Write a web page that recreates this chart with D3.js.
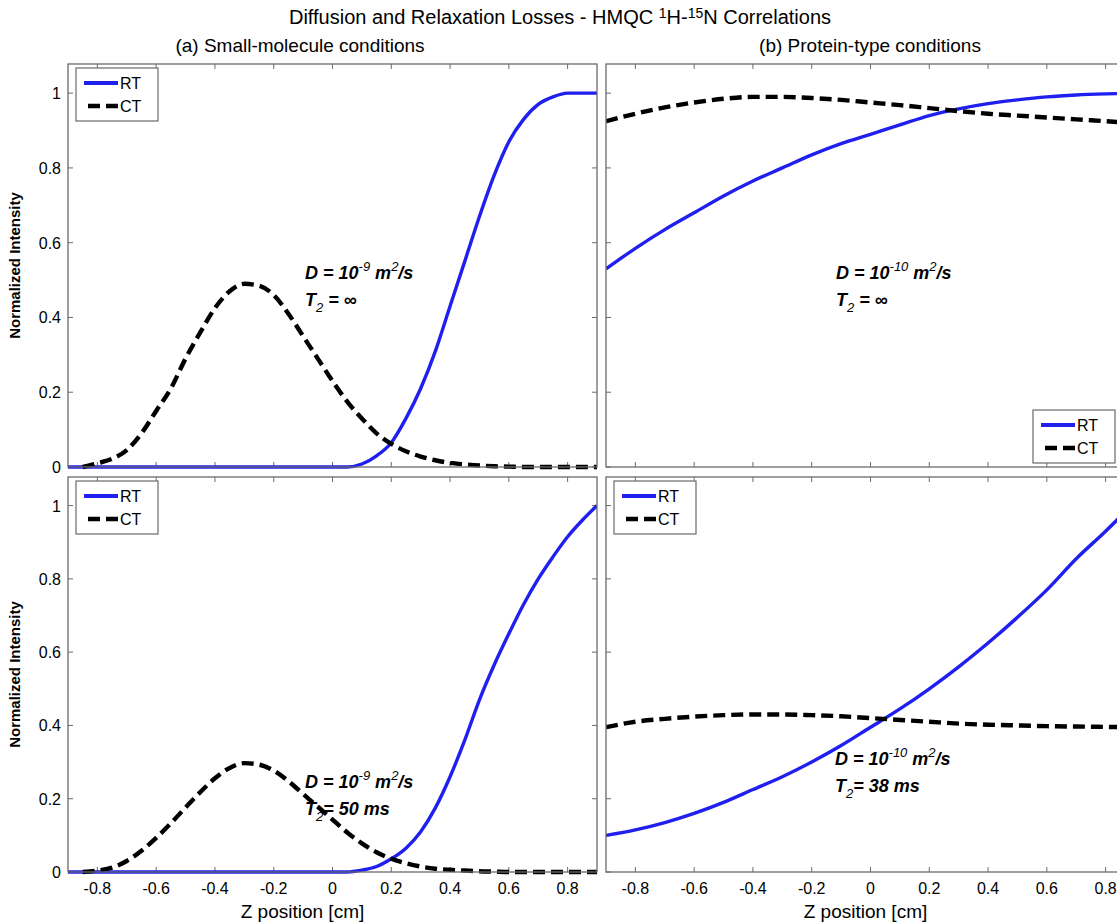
<!DOCTYPE html>
<html>
<head>
<meta charset="utf-8">
<script src="https://cdn.jsdelivr.net/npm/d3@7"></script>
<style>
  body { margin: 0; background: #fff; }
  svg { display: block; font-family: "Liberation Sans", Arial, Helvetica, sans-serif; }
</style>
</head>
<body>
<svg id="chart" width="1117" height="922"></svg>
<script>
// z positions (cm)
const zFine = [-0.9, -0.85, -0.8, -0.75, -0.7, -0.65, -0.6, -0.55, -0.5, -0.45, -0.4, -0.35, -0.3, -0.25, -0.2, -0.15, -0.1, -0.05,
  0, 0.05, 0.1, 0.15, 0.2, 0.25, 0.3, 0.35, 0.4, 0.45, 0.5, 0.55, 0.6, 0.65, 0.7, 0.75, 0.8, 0.85, 0.9]
const zFineCT = zFine.slice(1)
const zCoarse = [-0.9, -0.8, -0.7, -0.6, -0.5, -0.4, -0.3, -0.2, -0.1, 0, 0.1, 0.2, 0.3, 0.4, 0.5, 0.6, 0.7, 0.8, 0.9]

// (a) small molecule, T2 = inf
const aTopRT = [0, 0, 0, 0, 0, 0, 0, 0, 0, 0, 0, 0, 0, 0, 0, 0, 0, 0, 0, 0,
  0.008, 0.03, 0.065, 0.13, 0.21, 0.31, 0.43, 0.55, 0.67, 0.78, 0.87, 0.93, 0.97, 0.99, 1.0, 1.0, 1.0]
const aTopCT = [0, 0.01, 0.022, 0.045, 0.09, 0.15, 0.21, 0.29, 0.36, 0.425, 0.47, 0.49, 0.485, 0.46, 0.41, 0.35, 0.29,
  0.23, 0.175, 0.13, 0.09, 0.062, 0.042, 0.028, 0.018, 0.011, 0.007, 0.004, 0.002, 0.001, 0, 0, 0, 0, 0, 0]

// (a) small molecule, T2 = 50 ms
const aBotRT = [0, 0, 0, 0, 0, 0, 0, 0, 0, 0, 0, 0, 0, 0, 0, 0, 0, 0, 0, 0,
  0.005, 0.015, 0.036, 0.065, 0.11, 0.175, 0.26, 0.36, 0.47, 0.565, 0.65, 0.73, 0.8, 0.86, 0.915, 0.96, 1.0]
const aBotCT = [0, 0.004, 0.012, 0.03, 0.058, 0.093, 0.133, 0.176, 0.218, 0.256, 0.284, 0.297, 0.293, 0.277, 0.248,
  0.213, 0.178, 0.143, 0.108, 0.078, 0.054, 0.036, 0.024, 0.015, 0.009, 0.006, 0.004, 0.002, 0.001, 0, 0, 0, 0, 0, 0, 0]

// (b) protein, T2 = inf
const bTopRT = [0.53, 0.585, 0.635, 0.68, 0.725, 0.765, 0.8, 0.835, 0.865, 0.89, 0.915, 0.94, 0.958, 0.972, 0.982, 0.99, 0.995, 0.998, 1.0]
const bTopCT = [0.925, 0.945, 0.962, 0.975, 0.985, 0.99, 0.99, 0.987, 0.982, 0.975, 0.968, 0.96, 0.952, 0.945, 0.94, 0.935, 0.93, 0.925, 0.92]

// (b) protein, T2 = 38 ms
const bBotRT = [0.1, 0.115, 0.135, 0.16, 0.19, 0.225, 0.26, 0.3, 0.345, 0.395, 0.445, 0.5, 0.56, 0.625, 0.695, 0.77, 0.855, 0.93, 1.01]
const bBotCT = [0.395, 0.41, 0.418, 0.424, 0.428, 0.43, 0.43, 0.428, 0.425, 0.42, 0.415, 0.41, 0.405, 0.402, 0.4, 0.398, 0.397, 0.396, 0.395]

const xTicks = [-0.8, -0.6, -0.4, -0.2, 0, 0.2, 0.4, 0.6, 0.8]
const yTicks = [0, 0.2, 0.4, 0.6, 0.8, 1]

const BLUE = '#1f1fef'
const FRAME = '#6a6a6a'

const svg = d3.select('#chart')

const cols = [{ x0: 68, x1: 597 }, { x0: 606, x1: 1135 }]
const rows = [{ y0: 64, y1: 467 }, { y0: 477, y1: 872 }]

const panels = [
  { col: 0, row: 0, zRT: zFine, rt: aTopRT, zCT: zFineCT, ct: aTopCT, D: '-9', T2: null,
    note: { x: 305, y: 279 }, legend: 'tl' },
  { col: 1, row: 0, zRT: zCoarse, rt: bTopRT, zCT: zCoarse, ct: bTopCT, D: '-10', T2: null,
    note: { x: 836, y: 279 }, legend: 'br' },
  { col: 0, row: 1, zRT: zFine, rt: aBotRT, zCT: zFineCT, ct: aBotCT, D: '-9', T2: '50 ms',
    note: { x: 305, y: 788 }, legend: 'tl' },
  { col: 1, row: 1, zRT: zCoarse, rt: bBotRT, zCT: zCoarse, ct: bBotCT, D: '-10', T2: '38 ms',
    note: { x: 835, y: 765 }, legend: 'tl' }
]

panels.forEach((p, i) => drawPanel(p, i))

function drawPanel(p, i) {
  const c = cols[p.col]
  const r = rows[p.row]
  const x = d3.scaleLinear().domain([-0.9, 0.9]).range([c.x0, c.x1])
  const y = d3.scaleLinear().domain([0, 1.078]).range([r.y1, r.y0])

  const g = svg.append('g')
  const clipId = 'clip' + i
  g.append('clipPath').attr('id', clipId)
    .append('rect').attr('x', c.x0).attr('y', r.y0 - 3).attr('width', c.x1 - c.x0).attr('height', r.y1 - r.y0 + 6)

  g.append('rect')
    .attr('x', c.x0).attr('y', r.y0)
    .attr('width', c.x1 - c.x0).attr('height', r.y1 - r.y0)
    .attr('fill', '#fff')

  // inward ticks on all sides
  const tk = 5
  const tg = g.append('g').attr('stroke', FRAME).attr('stroke-width', 1)
  xTicks.forEach(t => {
    tg.append('line').attr('x1', x(t)).attr('x2', x(t)).attr('y1', r.y1).attr('y2', r.y1 - tk)
    tg.append('line').attr('x1', x(t)).attr('x2', x(t)).attr('y1', r.y0).attr('y2', r.y0 + tk)
  })
  yTicks.forEach(t => {
    tg.append('line').attr('x1', c.x0).attr('x2', c.x0 + tk).attr('y1', y(t)).attr('y2', y(t))
    tg.append('line').attr('x1', c.x1).attr('x2', c.x1 - tk).attr('y1', y(t)).attr('y2', y(t))
  })

  const line = d3.line().x(d => x(d[0])).y(d => y(d[1])).curve(d3.curveMonotoneX)
  const plot = g.append('g').attr('clip-path', `url(#${clipId})`)
  plot.append('path')
    .datum(p.zRT.map((z, k) => [z, p.rt[k]]))
    .attr('d', line)
    .attr('fill', 'none').attr('stroke', BLUE).attr('stroke-width', 3.4)
  plot.append('path')
    .datum(p.zCT.map((z, k) => [z, p.ct[k]]))
    .attr('d', line)
    .attr('fill', 'none').attr('stroke', '#000').attr('stroke-width', 4.4)
    .attr('stroke-dasharray', '12,6')

  g.append('rect')
    .attr('x', c.x0).attr('y', r.y0)
    .attr('width', c.x1 - c.x0).attr('height', r.y1 - r.y0)
    .attr('fill', 'none').attr('stroke', FRAME).attr('stroke-width', 1.3)

  // tick labels
  if (p.col === 0) {
    yTicks.forEach(t => {
      g.append('text').attr('x', c.x0 - 7).attr('y', y(t) + 6)
        .attr('text-anchor', 'end').attr('font-size', 16).text(t)
    })
    g.append('text')
      .attr('transform', `translate(${c.x0 - 48},${(r.y0 + r.y1) / 2}) rotate(-90)`)
      .attr('text-anchor', 'middle').attr('font-size', 15).attr('font-weight', 'bold')
      .text('Normalized Intensity')
  }
  if (p.row === 1) {
    xTicks.forEach(t => {
      g.append('text').attr('x', x(t)).attr('y', r.y1 + 22)
        .attr('text-anchor', 'middle').attr('font-size', 16).text(t)
    })
    g.append('text').attr('x', (c.x0 + c.x1) / 2 - (p.col ? 5 : 30)).attr('y', r.y1 + 46)
      .attr('text-anchor', 'middle').attr('font-size', 19).text('Z position [cm]')
  }

  drawNote(g, p)
  drawLegend(g, p, c, r)
}

function drawNote(g, p) {
  const t1 = g.append('text').attr('x', p.note.x).attr('y', p.note.y)
    .attr('font-size', 18).attr('font-style', 'italic').attr('font-weight', 'bold')
  t1.append('tspan').text('D = 10')
  t1.append('tspan').attr('dy', -8).attr('font-size', 13).attr('font-weight', 'normal').text(p.D)
  t1.append('tspan').attr('dy', 8).text(' m')
  t1.append('tspan').attr('dy', -8).attr('font-size', 13).attr('font-weight', 'normal').text('2')
  t1.append('tspan').attr('dy', 8).text('/s')

  const t2 = g.append('text').attr('x', p.note.x).attr('y', p.note.y + 27)
    .attr('font-size', 18).attr('font-style', 'italic').attr('font-weight', 'bold')
  t2.append('tspan').text('T')
  t2.append('tspan').attr('dy', 6).attr('font-size', 13).attr('font-weight', 'normal').text('2')
  if (p.T2) {
    t2.append('tspan').attr('dy', -6).text('= ' + p.T2)
  } else {
    t2.append('tspan').attr('dy', -6).text(' = \u221E')
  }
}

function drawLegend(g, p, c, r) {
  const w = 82
  const h = 53
  const lx = p.legend === 'tl' ? c.x0 + 8 : 1033
  const ly = p.legend === 'tl' ? r.y0 + 4 : r.y1 - h - 4
  const lg = g.append('g')
  lg.append('rect').attr('x', lx).attr('y', ly).attr('width', w).attr('height', h)
    .attr('fill', '#fff').attr('stroke', FRAME).attr('stroke-width', 1.2)
  lg.append('line').attr('x1', lx + 8).attr('x2', lx + 42).attr('y1', ly + 15).attr('y2', ly + 15)
    .attr('stroke', BLUE).attr('stroke-width', 3.8)
  lg.append('line').attr('x1', lx + 12).attr('x2', lx + 42).attr('y1', ly + 38).attr('y2', ly + 38)
    .attr('stroke', '#000').attr('stroke-width', 4.4).attr('stroke-dasharray', '12,6')
  lg.append('text').attr('x', lx + 44).attr('y', ly + 21).attr('font-size', 16).text('RT')
  lg.append('text').attr('x', lx + 44).attr('y', ly + 44).attr('font-size', 16).text('CT')
}

// titles
const title = svg.append('text').attr('x', 560).attr('y', 24).attr('text-anchor', 'middle').attr('font-size', 20)
title.append('tspan').text('Diffusion and Relaxation Losses - HMQC ')
title.append('tspan').attr('dy', -6).attr('font-size', 14).text('1')
title.append('tspan').attr('dy', 6).text('H-')
title.append('tspan').attr('dy', -6).attr('font-size', 14).text('15')
title.append('tspan').attr('dy', 6).text('N Correlations')

svg.append('text').attr('x', 300).attr('y', 52).attr('text-anchor', 'middle').attr('font-size', 19)
  .text('(a) Small-molecule conditions')
svg.append('text').attr('x', 870).attr('y', 52).attr('text-anchor', 'middle').attr('font-size', 19)
  .text('(b) Protein-type conditions')
</script>
</body>
</html>
